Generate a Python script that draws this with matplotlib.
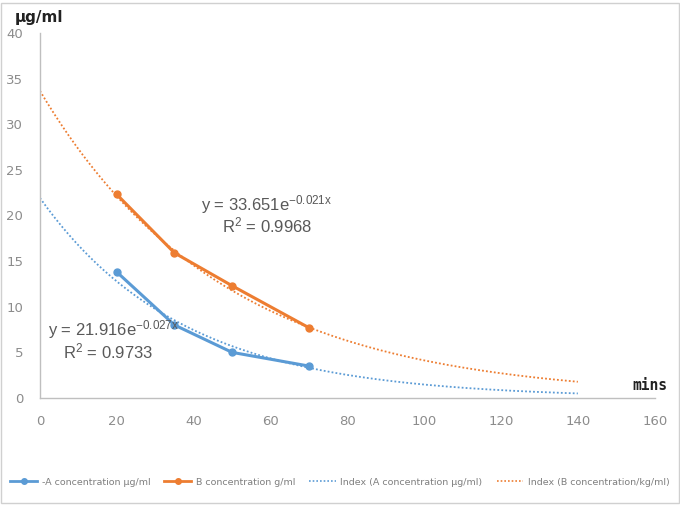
import numpy as np
import matplotlib.pyplot as plt
from matplotlib.lines import Line2D
from matplotlib.patches import Rectangle

# data
minutes = [20, 35, 50, 70]
conc_a = [13.8, 8.0, 5.0, 3.5]
conc_b = [22.3, 15.9, 12.3, 7.7]

# exponential trendlines, coefficients as printed on the chart
fit_a = (21.916, -0.027)
fit_b = (33.651, -0.021)
fit_range = (0, 140)

xticks = [0, 20, 40, 60, 80, 100, 120, 140, 160]
yticks = [0, 5, 10, 15, 20, 25, 30, 35, 40]

legend_labels = ["-A concentration \u03bcg/ml", "B concentration g/ml",
                 "Index (A concentration \u03bcg/ml)", "Index (B concentration/kg/ml)"]

blue = "#5B9BD5"
orange = "#ED7D31"
grey_txt = "#595959"

plt.rcParams["mathtext.fontset"] = "custom"
plt.rcParams["mathtext.rm"] = "Liberation Sans"
plt.rcParams["mathtext.it"] = "Liberation Sans"

fig = plt.figure(figsize=(6.8, 5.05), dpi=100)
ax = fig.add_axes([0.0588, 0.2119, 0.904, 0.7228])

xs = np.linspace(fit_range[0], fit_range[1], 300)
ax.plot(xs, fit_a[0] * np.exp(fit_a[1] * xs), color=blue, lw=1.3, ls=(0, (1, 1.2)))
ax.plot(xs, fit_b[0] * np.exp(fit_b[1] * xs), color=orange, lw=1.3, ls=(0, (1, 1.2)))

ax.plot(minutes, conc_a, color=blue, lw=2.2, marker="o", ms=5)
ax.plot(minutes, conc_b, color=orange, lw=2.2, marker="o", ms=5)

ax.set_xlim(0, 160)
ax.set_ylim(0, 40)
ax.set_xticks(xticks)
ax.set_yticks(yticks)
ax.tick_params(length=0, labelsize=9.5, labelcolor="#8c8c8c", pad=12)
for s in ["top", "right"]:
    ax.spines[s].set_visible(False)
for s in ["left", "bottom"]:
    ax.spines[s].set_color("#bfbfbf")
    ax.spines[s].set_linewidth(1.0)

eq_style = dict(fontsize=12, color=grey_txt, family="Liberation Sans")
ax.text(42, 20.6, "y = 33.651e$^{\\mathrm{-0.021x}}$", **eq_style)
ax.text(47.5, 18.1, "R$^{\\mathrm{2}}$ = 0.9968", **eq_style)
ax.text(2.0, 6.9, "y = 21.916e$^{\\mathrm{-0.027x}}$", **eq_style)
ax.text(6.0, 4.3, "R$^{\\mathrm{2}}$ = 0.9733", **eq_style)

fig.text(0.022, 0.957, "\u03bcg/ml", fontsize=11, fontweight="bold", color="#222222")
fig.text(0.93, 0.228, "mins", fontsize=10.5, fontweight="bold", color="#222222",
         family="DejaVu Sans Mono")

handles = [
    Line2D([], [], color=blue, lw=2, marker="o", ms=4),
    Line2D([], [], color=orange, lw=2, marker="o", ms=4),
    Line2D([], [], color=blue, lw=1.2, ls=(0, (1, 1.2))),
    Line2D([], [], color=orange, lw=1.2, ls=(0, (1, 1.2))),
]
leg = fig.legend(handles, legend_labels, loc="center", bbox_to_anchor=(0.5, 0.045),
                 ncol=4, frameon=False, fontsize=6.8, handlelength=2.8,
                 columnspacing=1.5, handletextpad=0.5)
for t in leg.get_texts():
    t.set_color("#7f7f7f")

fig.patches.append(Rectangle((0.002, 0.004), 0.996, 0.99, transform=fig.transFigure,
                             fill=False, edgecolor="#d0d0d0", lw=1))

fig.savefig("out.png", dpi=100)
